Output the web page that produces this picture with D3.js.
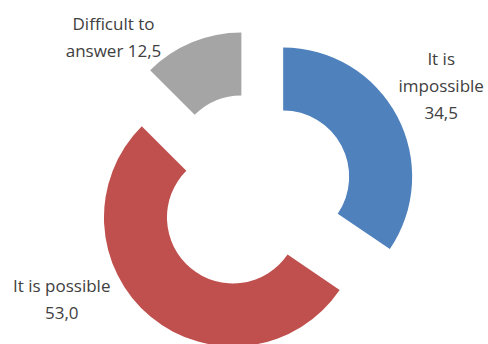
<!DOCTYPE html>
<html><head><meta charset="utf-8">
<script src="https://cdn.jsdelivr.net/npm/d3@7"></script>
<style>html,body{margin:0;padding:0;background:#fff;}svg{display:block;}</style>
</head><body>
<svg id="chart" width="488" height="344"></svg>
<script>
const categories = ["It is impossible", "It is possible", "Difficult to answer"];
const values = [34.5, 53.0, 12.5];
const valueLabels = ["34,5", "53,0", "12,5"];
const labelLines = [["It is", "impossible", "34,5"], ["It is possible", "53,0"], ["Difficult to", "answer 12,5"]];
const colors = ["#4F81BD", "#C0504D", "#A5A5A5"];

const W = 488, H = 344;
const cx = 254, cy = 192, R = 129, r = 66, explode = 33;
// label anchors (polar, relative to centre): [angle deg, radius]
const labelPolar = [[61.5, 213], [240, 222], [317, 206]];
const lineH = 27;

const svg = d3.select("#chart");
const g = svg.append("g").attr("transform", `translate(${cx},${cy})`);

const data = categories.map((c, i) => ({ name: c, value: values[i], color: colors[i], lines: labelLines[i] }));
const pie = d3.pie().sort(null).value(d => d.value).startAngle(0).endAngle(2 * Math.PI);
const arc = d3.arc().innerRadius(r).outerRadius(R);
const arcs = pie(data);

g.selectAll("path.slice").data(arcs).join("path")
  .attr("class", "slice")
  .attr("d", arc)
  .attr("fill", d => d.data.color)
  .attr("transform", d => {
    const a = (d.startAngle + d.endAngle) / 2;
    return `translate(${explode * Math.sin(a)},${-explode * Math.cos(a)})`;
  });

const lbl = g.selectAll("text.lbl").data(arcs).join("text")
  .attr("class", "lbl")
  .attr("text-anchor", "middle")
  .attr("font-family", "'Open Sans', sans-serif")
  .attr("font-size", 17)
  .attr("fill", "#404040")
  .attr("transform", (d, i) => {
    const a = labelPolar[i][0] * Math.PI / 180, rr = labelPolar[i][1];
    return `translate(${rr * Math.sin(a)},${-rr * Math.cos(a)})`;
  });
lbl.each(function(d) {
  const n = d.data.lines.length;
  d3.select(this).selectAll("tspan").data(d.data.lines).join("tspan")
    .attr("x", 0)
    .attr("y", (t, k) => (k - (n - 1) / 2) * lineH + 2)
    .text(t => t);
});
</script>
</body></html>
